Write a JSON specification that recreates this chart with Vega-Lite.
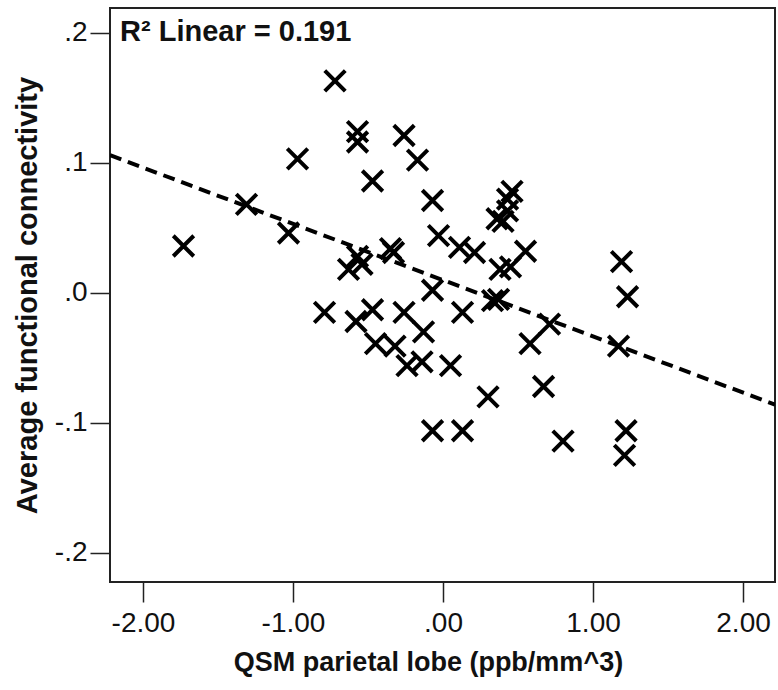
{
  "$schema": "https://vega.github.io/schema/vega-lite/v6.json",
  "width": 665,
  "height": 574,
  "autosize": {"type": "none"},
  "padding": {"left": 110, "top": 8, "right": 3, "bottom": 108},
  "background": "white",
  "config": {
    "view": {"stroke": "#222", "strokeWidth": 2},
    "font": "Liberation Sans",
    "axis": {
      "grid": false, "domain": false, "tickColor": "#222", "tickSize": 20, "tickWidth": 1.5,
      "labelFont": "Liberation Sans", "labelFontSize": 28, "labelColor": "#111",
      "titleFont": "Liberation Sans", "titleFontSize": 27, "titleFontWeight": "bold", "titleColor": "#111"
    }
  },
  "datasets": {
    "pts": [
      {"x": -1.73, "y": 0.036}, {"x": -1.31, "y": 0.068}, {"x": -1.03, "y": 0.046}, {"x": -0.97, "y": 0.103},
      {"x": -0.79, "y": -0.015}, {"x": -0.72, "y": 0.163}, {"x": -0.57, "y": 0.124}, {"x": -0.57, "y": 0.116},
      {"x": -0.63, "y": 0.018}, {"x": -0.54, "y": 0.022}, {"x": -0.57, "y": 0.028}, {"x": -0.58, "y": -0.022},
      {"x": -0.47, "y": 0.086}, {"x": -0.47, "y": -0.013}, {"x": -0.45, "y": -0.039}, {"x": -0.35, "y": 0.034},
      {"x": -0.33, "y": 0.031}, {"x": -0.32, "y": -0.041}, {"x": -0.26, "y": 0.121}, {"x": -0.26, "y": -0.015},
      {"x": -0.24, "y": -0.056}, {"x": -0.17, "y": 0.102}, {"x": -0.14, "y": -0.053}, {"x": -0.13, "y": -0.030},
      {"x": -0.07, "y": 0.071}, {"x": -0.07, "y": 0.002}, {"x": -0.07, "y": -0.106}, {"x": -0.03, "y": 0.044},
      {"x": 0.05, "y": -0.056}, {"x": 0.11, "y": 0.035}, {"x": 0.13, "y": -0.015}, {"x": 0.13, "y": -0.106},
      {"x": 0.21, "y": 0.031}, {"x": 0.30, "y": -0.080}, {"x": 0.33, "y": -0.006}, {"x": 0.37, "y": -0.005},
      {"x": 0.38, "y": 0.018}, {"x": 0.45, "y": 0.020}, {"x": 0.46, "y": 0.078}, {"x": 0.43, "y": 0.072},
      {"x": 0.43, "y": 0.063}, {"x": 0.36, "y": 0.057}, {"x": 0.40, "y": 0.055}, {"x": 0.55, "y": 0.032},
      {"x": 0.58, "y": -0.039}, {"x": 0.67, "y": -0.072}, {"x": 0.71, "y": -0.024}, {"x": 0.80, "y": -0.114},
      {"x": 1.17, "y": -0.041}, {"x": 1.19, "y": 0.024}, {"x": 1.23, "y": -0.003}, {"x": 1.22, "y": -0.106},
      {"x": 1.21, "y": -0.125}
    ]
  },
  "data": {"name": "pts"},
  "encoding": {
    "x": {
      "field": "x", "type": "quantitative",
      "scale": {"domain": [-2.22, 2.213], "nice": false, "zero": false},
      "axis": {"values": [-2, -1, 0, 1, 2], "title": "QSM parietal lobe (ppb/mm^3)", "labelPadding": 7, "titlePadding": 12, "titleX": 318,
               "labelExpr": "datum.value == 0 ? '.00' : replace(format(datum.value, '.2f'), '\u2212', '-')"}
    },
    "y": {
      "field": "y", "type": "quantitative",
      "scale": {"domain": [-0.2223, 0.219], "nice": false, "zero": false},
      "axis": {"values": [-0.2, -0.1, 0, 0.1, 0.2], "title": "Average functional connectivity", "titleFontSize": 29, "labelPadding": 3, "titlePadding": 12,
               "labelExpr": "replace(replace(format(datum.value, '.1f'), '\u2212', '-'), '0.', '.')"}
    }
  },
  "layer": [
    {
      "mark": {"type": "point", "shape": "M-1,-1L1,1M1,-1L-1,1", "size": 420, "filled": false, "stroke": "black", "strokeWidth": 4, "opacity": 1, "clip": true}
    },
    {
      "transform": [{"regression": "y", "on": "x", "extent": [-2.22, 2.213]}],
      "mark": {"type": "line", "color": "black", "strokeWidth": 4, "strokeDash": [12, 7], "clip": true}
    },
    {
      "data": {"values": [{"x": -2.153, "y": 0.194, "t": "R² Linear = 0.191"}]},
      "mark": {"type": "text", "align": "left", "baseline": "alphabetic", "fontSize": 29, "fontWeight": "bold", "font": "Liberation Sans", "color": "#111"},
      "encoding": {"text": {"field": "t"}}
    }
  ]
}
